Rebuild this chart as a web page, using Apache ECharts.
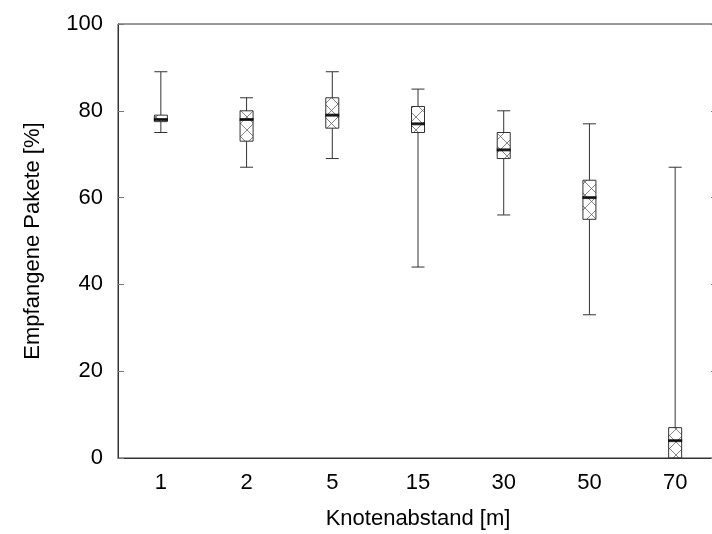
<!DOCTYPE html>
<html>
<head>
<meta charset="utf-8">
<script src="https://cdn.jsdelivr.net/npm/echarts@6/dist/echarts.min.js"></script>
<style>
  html, body { margin: 0; padding: 0; background: #fff; overflow: hidden; }
  #chart { width: 718px; height: 534px; }
</style>
</head>
<body>
<div id="chart"></div>
<script>
// Knotenabstand [m]
var distances = ['1', '2', '5', '15', '30', '50', '70'];
// box values: [min, Q1, median, Q3, max]
var boxData = [
    [75, 77.5, 78, 79, 89],
    [67, 73, 78, 80, 83],
    [69, 76, 79, 83, 89],
    [44, 75, 77, 81, 85],
    [56, 69, 71, 75, 80],
    [33, 55, 60, 64, 77],
    [0, 0, 4, 7, 67]
];
var yTicks = [0, 20, 40, 60, 80, 100];

var medians = boxData.map(function (d, i) { return [i, d[2]]; });

// crosshatch fill for the boxes
function hatch() {
    var c = document.createElement('canvas');
    c.width = 13; c.height = 13;
    var ctx = c.getContext('2d');
    ctx.fillStyle = '#fff';
    ctx.fillRect(0, 0, 13, 13);
    ctx.strokeStyle = '#666';
    ctx.lineWidth = 0.8;
    ctx.beginPath();
    ctx.moveTo(0, 0); ctx.lineTo(13, 13);
    ctx.moveTo(13, 0); ctx.lineTo(0, 13);
    ctx.stroke();
    return c;
}

var font = '"Liberation Sans", Arial, Helvetica, sans-serif';
var chart = echarts.init(document.getElementById('chart'));

var option = {
    animation: false,
    grid: {
        left: 118, top: 24, right: 0, bottom: 76,
        outerBoundsMode: 'none',
        show: true, borderColor: '#333', borderWidth: 1
    },
    xAxis: [{
        type: 'category',
        data: distances,
        position: 'bottom',
        name: 'Knotenabstand [m]',
        nameLocation: 'middle',
        nameGap: 50,
        nameTextStyle: { fontFamily: font, fontSize: 22, color: '#000' },
        axisLine: { lineStyle: { color: '#333' } },
        axisTick: { alignWithLabel: true, inside: true, length: 6, lineStyle: { color: '#333' } },
        axisLabel: { fontFamily: font, fontSize: 22, color: '#000', margin: 14 },
        splitLine: { show: false }
    }, {
        type: 'category',
        data: distances,
        position: 'bottom',
        axisLine: { show: false },
        axisTick: { alignWithLabel: true, inside: false, length: 6, lineStyle: { color: '#333' } },
        axisLabel: { show: false },
        splitLine: { show: false }
    }],
    yAxis: [{
        type: 'value',
        min: 0, max: 100, interval: 20,
        name: 'Empfangene Pakete [%]',
        nameLocation: 'middle',
        nameGap: 74,
        nameTextStyle: { fontFamily: font, fontSize: 22, color: '#000' },
        axisLine: { show: true, lineStyle: { color: '#333' } },
        axisTick: { show: true, inside: true, length: 6, lineStyle: { color: '#777' } },
        axisLabel: {
            fontFamily: font, fontSize: 22, color: '#000', margin: 15,
            formatter: function (v) { return yTicks.indexOf(v) >= 0 ? v : ''; }
        },
        splitLine: { show: false }
    }, {
        type: 'value',
        position: 'right',
        min: 0, max: 100, interval: 20,
        axisLine: { show: true, lineStyle: { color: '#333' } },
        axisTick: { show: true, inside: true, length: 7, lineStyle: { color: '#777' } },
        axisLabel: { show: false },
        splitLine: { show: false }
    }],
    series: [{
        type: 'boxplot',
        data: boxData,
        boxWidth: [13, 13],
        itemStyle: {
            color: { image: hatch(), repeat: 'repeat' },
            borderColor: '#333',
            borderWidth: 1
        },
        z: 2
    }, {
        type: 'scatter',
        data: medians,
        symbol: 'rect',
        symbolSize: [14, 3],
        itemStyle: { color: '#000' },
        z: 5
    }]
};

chart.setOption(option);
</script>
</body>
</html>
